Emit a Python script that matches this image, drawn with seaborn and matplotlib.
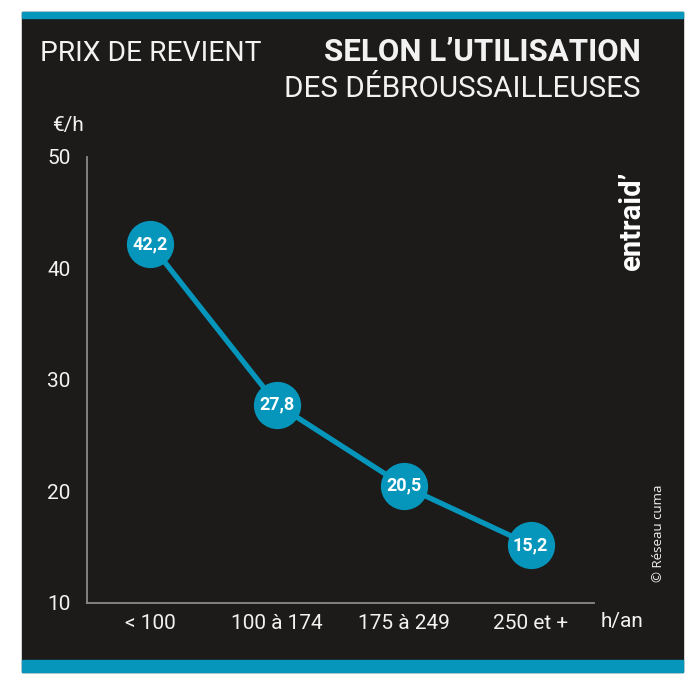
import matplotlib
matplotlib.use("Agg")
import matplotlib.pyplot as plt
import seaborn as sns
import pandas as pd
from matplotlib.patches import Rectangle

categories = ["< 100", "100 à 174", "175 à 249", "250 et +"]
values = [42.2, 27.8, 20.5, 15.2]
value_labels = ["42,2", "27,8", "20,5", "15,2"]
y_ticks = [10, 20, 30, 40, 50]

TEAL = "#0796bb"
PANEL = "#1c1b19"
TXT = "#f2f2f2"

sns.set_theme(style="white")
plt.rcParams["font.family"] = ["Roboto", "DejaVu Sans"]

fig = plt.figure(figsize=(7.0, 6.89), dpi=100)
fig.patch.set_facecolor("white")
W, H = 700, 689

def rect(x0, y0, x1, y1, color):
    fig.patches.append(Rectangle((x0 / W, 1 - y1 / H), (x1 - x0) / W, (y1 - y0) / H,
                                 transform=fig.transFigure, color=color, zorder=-5))

rect(22, 12, 683, 672, PANEL)
rect(22, 12, 683, 18, TEAL)
rect(22, 660, 683, 672, TEAL)

ax = fig.add_axes([87 / W, 1 - 603 / H, (594 - 87) / W, (603 - 157) / H])
ax.set_zorder(2)
ax.set_facecolor(PANEL)

df = pd.DataFrame({"cat": categories, "val": values})
sns.lineplot(data=df, x="cat", y="val", ax=ax, color=TEAL, linewidth=3.8,
             marker="o", markersize=34, markeredgewidth=0, sort=False, zorder=3)

for i, (v, lab) in enumerate(zip(values, value_labels)):
    ax.text(i, v, lab, ha="center", va="center", color="white", fontsize=13,
            fontweight="bold", zorder=5)

ax.set_xlim(-0.5, 3.5)
ax.set_ylim(10, 50)
ax.set_yticks(y_ticks)
ax.set_yticklabels([str(t) for t in y_ticks])
ax.set_xlabel("")
ax.set_ylabel("")
for s in ["top", "right"]:
    ax.spines[s].set_visible(False)
for s in ["left", "bottom"]:
    ax.spines[s].set_color("#8a8a8a")
    ax.spines[s].set_linewidth(1.3)
ax.tick_params(axis="both", length=0, colors=TXT, labelsize=15)
ax.tick_params(axis="y", pad=12)
ax.tick_params(axis="x", pad=8)
ax.grid(False)

fig.text(40 / W, 1 - 61 / H, "PRIX DE REVIENT", color=TXT, fontsize=20.3, ha="left",
         va="baseline", fontweight="normal")
fig.text(641 / W, 1 - 61 / H, "SELON L\u2019UTILISATION", color=TXT, fontsize=22.5,
         ha="right", va="baseline", fontweight="bold")
fig.text(641 / W, 1 - 97 / H, "DES DÉBROUSSAILLEUSES", color=TXT, fontsize=21.3,
         ha="right", va="baseline", fontweight="normal")
fig.text(68 / W, 1 - 125 / H, "€/h", color=TXT, fontsize=15, ha="center", va="center")
fig.text(622 / W, 1 - 621 / H, "h/an", color=TXT, fontsize=15, ha="center", va="center")
fig.text(632 / W, 1 - 220 / H, "entraid\u2019", color="white", fontsize=21, ha="center",
         va="center", rotation=90, fontweight="bold")
fig.text(658 / W, 1 - 533 / H, "© Réseau cuma", color=TXT, fontsize=9.5, ha="center",
         va="center", rotation=90, family=["Open Sans", "DejaVu Sans"])

fig.savefig("out.png", dpi=100, facecolor=fig.get_facecolor())
